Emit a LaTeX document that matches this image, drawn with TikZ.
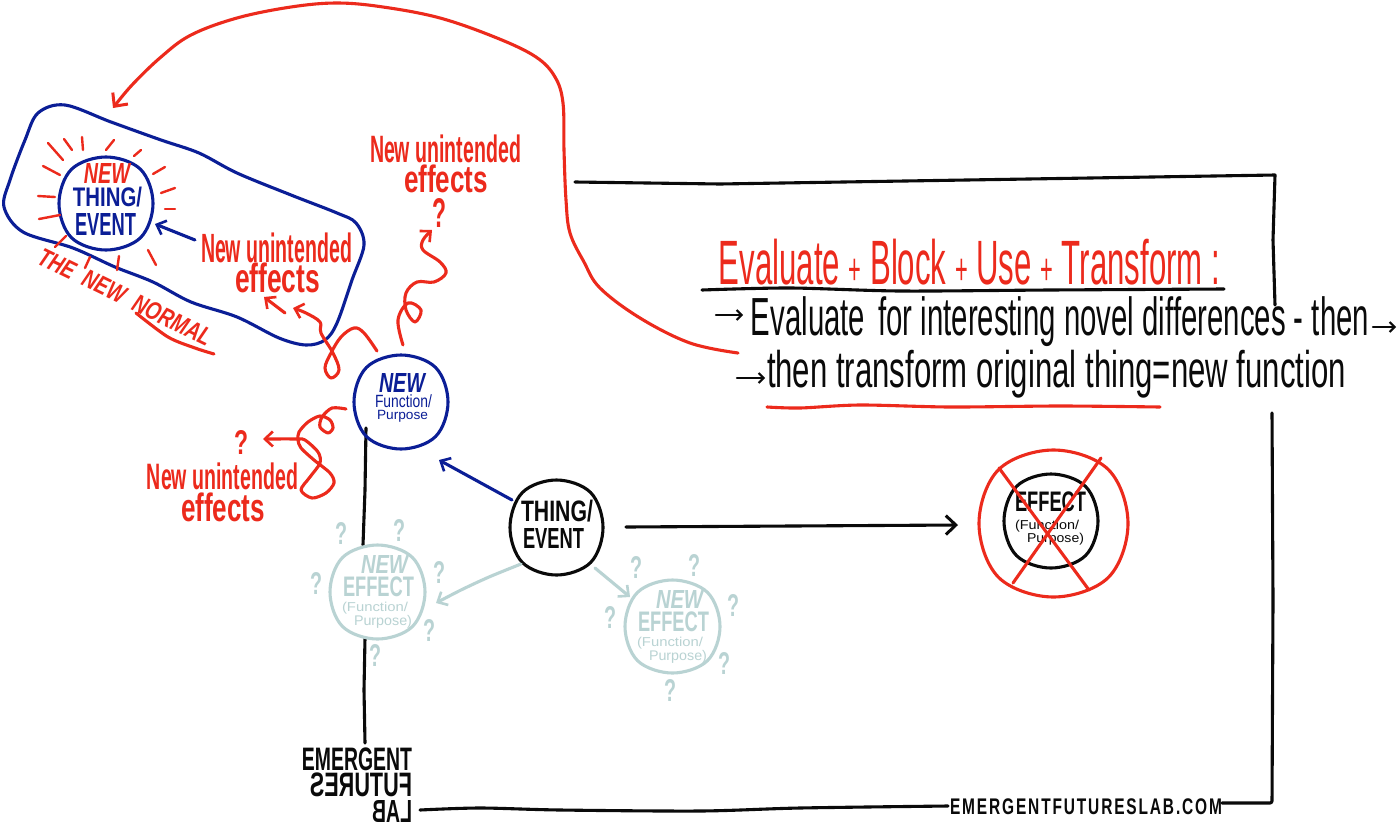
\documentclass[tikz,border=0pt]{standalone}
\usepackage{graphicx}
\usepackage{fontspec}
\setmainfont{Liberation Sans}
\usetikzlibrary{arrows.meta}
\definecolor{hred}{HTML}{EC2A1C}
\definecolor{hblue}{HTML}{0B1E96}
\definecolor{hpale}{HTML}{B9D3D3}
\definecolor{hblack}{HTML}{0A0A0A}
\tikzset{
  ink/.style={line width=3.1pt,line cap=round,line join=round},
  thin ink/.style={line width=2.4pt,line cap=round,line join=round},
  barb/.style={-{Straight Barb[length=10pt,width=19pt,line width=3pt]}},
  small barb/.style={-{Straight Barb[length=8pt,width=15pt,line width=2.6pt]}},
  mini barb/.style={-{Straight Barb[length=5pt,width=10pt,line width=2pt]}},
  blob/.style={rectangle,inner sep=0pt},
  lab/.style={inner sep=0pt,outer sep=0pt,anchor=center},
}
\newcommand{\tb}[8][]{%
  \pgfmathsetmacro{\cxx}{(#4+#6)/2}\pgfmathsetmacro{\cyy}{(#5+#7)/2}%
  \pgfmathsetmacro{\ww}{#6-#4}\pgfmathsetmacro{\hh}{#7-#5}%
  \node[lab,text=#3,#1] (#2) at (\cxx,\cyy) {\resizebox*{\ww pt}{\hh pt}{#8}};}
\newcommand{\sq}[6]{% name colour x1 y1 x2 y2
  \pgfmathsetmacro{\cxx}{(#3+#5)/2}\pgfmathsetmacro{\cyy}{(#4+#6)/2}%
  \pgfmathsetmacro{\ww}{#5-#3}\pgfmathsetmacro{\hh}{#6-#4}%
  \pgfmathsetmacro{\rx}{\ww/2}\pgfmathsetmacro{\ry}{\hh/2}%
  \pgfmathsetmacro{\kx}{0.735*\rx}\pgfmathsetmacro{\ky}{0.735*\ry}%
  \node[blob,minimum width=\ww pt,minimum height=\hh pt] (#1) at (\cxx,\cyy) {};
  \draw[ink,#2] plot[smooth cycle,tension=.6] coordinates {(#5,\cyy) ({\cxx+\kx},{\cyy+\ky}) (\cxx,#6) ({\cxx-\kx},{\cyy+\ky}) (#3,\cyy) ({\cxx-\kx},{\cyy-\ky}) (\cxx,#4) ({\cxx+\kx},{\cyy-\ky})};}
\begin{document}
\begin{tikzpicture}[x=1pt,y=-1pt]
\useasboundingbox[fill=white] (0,0) rectangle (1400,825);

% ---- black frame
\coordinate (f1) at (575,182);
\coordinate (f2) at (1275,175);
\coordinate (f3) at (1275,305);
\coordinate (f4) at (1272,413);
\coordinate (f5) at (1272,803);
\coordinate (f6) at (1222,803);
\coordinate (f7) at (948,806);
\coordinate (f8) at (420,810);
\coordinate (f9) at (365,743);
\coordinate (f10) at (365,638);
\coordinate (f11) at (363,545);
\coordinate (f12) at (366,428);
\draw[ink,hblack] (f1) -- (720,184) -- (f2) -- (1273,240) -- (f3);
\draw[ink,hblack,rounded corners=2pt] (f4) -- (1273,600) -- (f5) -- (f6);
\draw[ink,hblack] plot[smooth] coordinates {(f7) (800,808) (700,811) (560,810) (480,808) (f8)};
\draw[ink,hblack] (f9) -- (364,690) -- (f10);
\draw[ink,hblack] (f11) -- (365,490) -- (f12);

% ---- big red arc
\coordinate (arcstart) at (738,353);
\coordinate (arctip) at (113,108);
\draw[ink,hred,barb] plot[smooth,tension=.6] coordinates {(arcstart) (690,343) (640,318) (600,288) (584,262) (570,233) (566,200) (564,150) (563,103) (555,77) (536,57) (497,38) (440,18) (383,7) (337,3) (291,7) (237,18) (191,35) (161,57) (132,85) (arctip)};

% ---- blue blob
\draw[ink,hblue] plot[smooth cycle,tension=.55] coordinates {(65,105) (111,122) (161,140) (199,153) (237,173) (291,195) (337,213) (356,223) (364,245) (352,280) (337,323) (325,340) (306,345) (279,338) (237,317) (191,302) (153,282) (115,267) (73,248) (23,232) (4,207) (10,180) (25,140) (38,113)};

% ---- new thing
\sq{newthing}{hblue}{59}{157}{153}{250}
\tb{newt1}{hred}{84}{163}{130}{183}{\bfseries\itshape NEW}
\tb{newt2}{hblue}{73}{187}{142}{207}{\bfseries THING/}
\tb{newt3}{hblue}{75}{213}{136}{235}{\bfseries EVENT}
\foreach \a/\b/\c/\d in {48/143/63/160,64/139/72/150,82/137/83/150,114/140/106/150,141/150/134/156,165/167/153/174,175/188/161/193,175/209/165/209,43/166/60/175,38/196/55/197,39/219/60/215,66/236/55/247,90/257/85/268,119/256/117/270,148/250/156/265}
  \draw[thin ink,hred] (\a,\b) -- (\c,\d);

\coordinate (ba1) at (195,240);
\coordinate (ba2) at (155,224);
\draw[ink,hblue,small barb] (ba1) -- (ba2);

\tb{ue1a}{hred}{201}{233}{352}{263}{\bfseries New unintended}
\tb{ue1b}{hred}{235}{263}{320}{293}{\bfseries effects}
\tb{ue2a}{hred}{370}{135}{521}{163}{\bfseries New unintended}
\tb{ue2b}{hred}{404}{165}{488}{193}{\bfseries effects}
\tb{ue3a}{hred}{147}{463}{298}{490}{\bfseries New unintended}
\tb{ue3b}{hred}{181}{493}{265}{522}{\bfseries effects}
\tb{qa}{hred}{432}{198}{446}{227}{\bfseries ?}
\tb{qb}{hred}{234}{430}{248}{454}{\bfseries ?}

\tb[rotate=-26]{normal}{hred}{30}{288}{220}{306}{\bfseries\itshape THE\ \ NEW\ \ NORMAL}
\coordinate (nu1) at (136,313);
\coordinate (nu2) at (214,354);
\draw[ink,hred] plot[smooth] coordinates {(nu1) (168,337) (195,348) (nu2)};

% ---- new function
\sq{newfn}{hblue}{354}{355}{448}{449}
\tb{nf1}{hblue}{379}{373}{425}{392}{\bfseries\itshape NEW}
\tb{nf2}{hblue}{375}{395}{432}{408}{Function/}
\tb{nf3}{hblue}{377}{410}{428}{422}{Purpose}

% ---- wiggles
\coordinate (w1s) at (403,345);
\coordinate (w1e) at (432,230);
\draw[ink,hred,small barb] plot[smooth,tension=.6] coordinates {(w1s) (398,320) (408,303) (421,310) (415,322) (406,310) (406,293) (417,282) (434,282) (446,273) (440,262) (423,250) (423,240) (w1e)};
\coordinate (w2s) at (377,351);
\coordinate (w2e) at (293,308);
\draw[ink,hred,small barb] plot[smooth,tension=.6] coordinates {(w2s) (364,333) (354,328) (341,337) (331,353) (325,368) (331,378) (339,370) (333,353) (321,333) (320,322) (306,313) (w2e)};
\coordinate (w2b) at (285,313);
\coordinate (w2c) at (264,297);
\draw[ink,hred,small barb] (w2b) -- (w2c);
\coordinate (w3s) at (346,409);
\coordinate (w3e) at (263,439);
\draw[ink,hred,small barb] plot[smooth,tension=.5] coordinates {(w3s) (332,408) (322,417) (320,427) (328,433) (333,428) (330,420) (320,416) (308,422) (299,432) (298,440) (301,448) (314,460) (330,473) (334,483) (326,493) (312,498) (301,490) (310,477) (320,463) (318,452) (305,440) (297,439) (w3e)};

% ---- thing / event
\sq{thing}{hblack}{510}{480}{603}{575}
\tb{th1}{hblack}{521}{500}{593}{522}{\bfseries THING/}
\tb{th2}{hblack}{523}{528}{584}{548}{\bfseries EVENT}
\coordinate (ta1) at (512,500);
\coordinate (ta2) at (439,460);
\draw[ink,hblue,small barb] (ta1) -- (ta2);
\coordinate (tb1) at (626,527);
\coordinate (tb2) at (958,525);
\draw[ink,hblack,barb] (tb1) -- (tb2);

% ---- crossed effect
\sq{effect}{hblack}{1004}{474}{1098}{568}
\sq{effring}{hred}{979}{450}{1128}{597}
\tb{ef1}{hblack}{1015}{492}{1086}{512}{\bfseries EFFECT}
\tb{ef2}{hblack}{1015}{520}{1079}{532}{(Function/}
\tb{ef3}{hblack}{1027}{533}{1084}{545}{Purpose)}
\coordinate (x1) at (999,468);
\coordinate (x2) at (1089,590);
\coordinate (x3) at (1101,458);
\coordinate (x4) at (1013,583);
\draw[ink,hred] (x1) -- (x2);
\draw[ink,hred] (x3) -- (x4);

% ---- pale new effects
\sq{pale1}{hpale}{330}{545}{425}{639}
\tb{pa1}{hpale}{361}{555}{408}{573}{\bfseries\itshape NEW}
\tb{pa2}{hpale}{343}{577}{414}{597}{\bfseries EFFECT}
\tb{pa3}{hpale}{342}{602}{408}{614}{(Function/}
\tb{pa4}{hpale}{354}{615}{412}{628}{Purpose)}
\sq{pale2}{hpale}{625}{580}{720}{673}
\tb{pb1}{hpale}{656}{590}{703}{608}{\bfseries\itshape NEW}
\tb{pb2}{hpale}{638}{612}{709}{632}{\bfseries EFFECT}
\tb{pb3}{hpale}{637}{637}{703}{649}{(Function/}
\tb{pb4}{hpale}{649}{650}{707}{663}{Purpose)}
\coordinate (pa) at (521,564);
\coordinate (pb) at (436,603);
\draw[ink,hpale,small barb] plot[smooth] coordinates {(pa) (489,577) (461,590) (pb)};
\coordinate (pc) at (595,568);
\coordinate (pd) at (630,597);
\draw[ink,hpale,small barb] (pc) -- (pd);
\foreach \i/\x/\y in {1/341/533,2/399/530,3/316/583,4/439/572,5/429/630,6/375/655,7/636/567,8/694/565,9/610/617,10/733/605,11/724/663,12/670/690}{
  \pgfmathsetmacro{\xa}{\x-6}\pgfmathsetmacro{\xb}{\x+6}\pgfmathsetmacro{\ya}{\y-11}\pgfmathsetmacro{\yb}{\y+11}
  \tb{pq\i}{hpale}{\xa}{\ya}{\xb}{\yb}{\bfseries ?}
}

% ---- heading and text
\tb{head}{hred}{719}{239}{1220}{285}{Evaluate {\scriptsize+} Block {\scriptsize+} Use {\scriptsize+} Transform :}
\coordinate (hu1) at (702,290);
\coordinate (hu2) at (1224,289);
\draw[ink,hblack] plot[smooth] coordinates {(hu1) (790,288) (900,291) (1050,290) (hu2)};
\tb{l1}{hblack}{751}{297}{1369}{347}{Evaluate\, for interesting novel differences - then}
\tb{l2}{hblack}{767}{350}{1346}{398}{then transform original thing=new function}
\coordinate (ar1) at (716,315);
\coordinate (ar2) at (743,315);
\draw[thin ink,hblack,mini barb] (ar1) -- (ar2);
\coordinate (ar3) at (1373,327);
\coordinate (ar4) at (1396,327);
\draw[thin ink,hblack,mini barb] (ar3) -- (ar4);
\coordinate (ar5) at (737,378);
\coordinate (ar6) at (765,378);
\draw[thin ink,hblack,mini barb] (ar5) -- (ar6);
\coordinate (ru1) at (767,407);
\coordinate (ru2) at (1160,407);
\draw[ink,hred] plot[smooth] coordinates {(ru1) (800,408) (860,405) (950,407) (1060,406) (ru2)};

% ---- logo and address
\tb{lg1}{hblack}{302}{748}{412}{771}{\bfseries EMERGENT}
\tb{lg2}{hblack}{310}{773}{412}{797}{\reflectbox{\bfseries FUTURES}}
\tb{lg3}{hblack}{372}{800}{412}{822}{\reflectbox{\bfseries LAB}}
\tb{url}{hblack}{950}{799}{1222}{815}{\addfontfeature{LetterSpace=12}\bfseries EMERGENTFUTURESLAB.COM}
\end{tikzpicture}
\end{document}
